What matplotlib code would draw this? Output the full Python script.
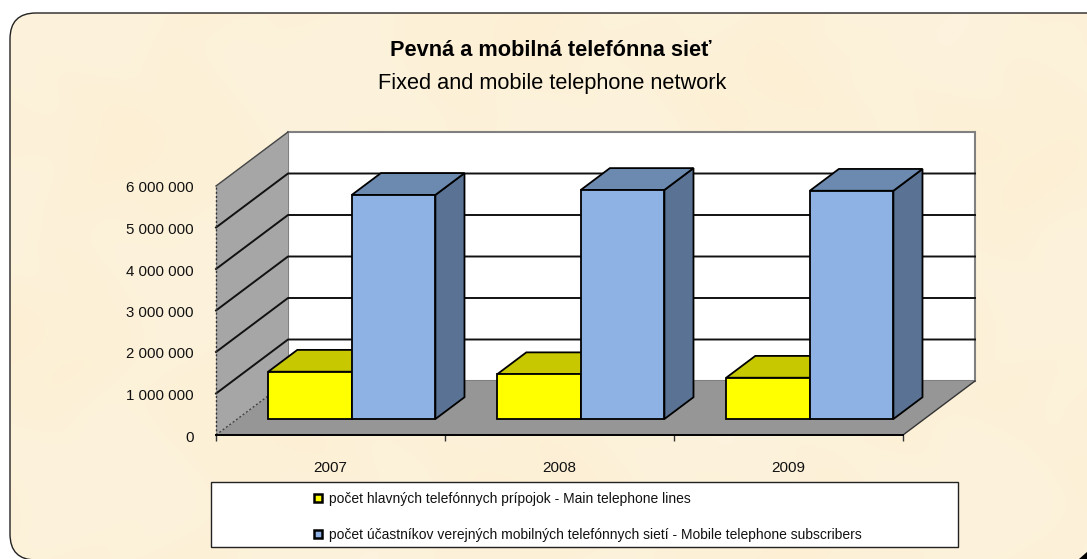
import numpy as np
import matplotlib
matplotlib.use("Agg")
import matplotlib.pyplot as plt
from matplotlib.lines import Line2D
from matplotlib.patches import FancyBboxPatch, Polygon, Rectangle
from matplotlib.ticker import FuncFormatter
from matplotlib.transforms import ScaledTranslation

plt.rcParams['font.family'] = ['Liberation Sans', 'DejaVu Sans']

# === Donnees ===
annees = ["2007", "2008", "2009"]
lignes_fixes = [1140000, 1080000, 995000]
abonnes_mobiles = [5400000, 5520000, 5500000]
graduations = [0, 1000000, 2000000, 3000000, 4000000, 5000000, 6000000]
titre_sk = "Pevná a mobilná telefónna sieť"
titre_en = "Fixed and mobile telephone network"
legende = ["počet hlavných telefónnych prípojok - Main telephone lines",
           "počet účastníkov verejných mobilných telefónnych sietí - Mobile telephone subscribers"]

W, H = 1087, 559
fig = plt.figure(figsize=(W / 100, H / 100), dpi=100, facecolor="white")

# === Fond parchemin ===
bg = fig.add_axes([0, 0, 1, 1])
bg.set_xlim(0, W)
bg.set_ylim(H, 0)
bg.axis("off")
xx, yy = np.meshgrid(np.arange(W), np.arange(H))
tache = (np.sin(xx / 47.0 + yy / 83.0) + np.sin(xx / 131.0 - yy / 37.0 + 1.3)
         + np.sin(xx / 19.0 + np.sin(yy / 29.0) * 2) * 0.5) / 2.5
texture = np.dstack([0.992 + 0 * tache, 0.945 + 0.006 * tache, 0.85 + 0.018 * tache])
img = bg.imshow(np.clip(texture, 0, 1), extent=(0, W, H, 0), aspect="auto", zorder=0)
cadre = FancyBboxPatch((10, 13), 1120, 547, boxstyle="round,pad=0,rounding_size=26",
                       facecolor="none", edgecolor="#222222", lw=1.0, zorder=2)
bg.add_patch(cadre)
img.set_clip_path(cadre)
# coin noir en bas a droite
bg.add_patch(Polygon([(1079, 559), (1087, 552), (1087, 559)], facecolor="black", edgecolor="none", zorder=2))

# === Axes : plan avant du graphique 3D ===
ax = fig.add_axes([216 / W, (H - 435) / H, 687 / W, 249 / H])
ax.patch.set_visible(False)
ax.set_xlim(0, 3)
ax.set_ylim(0, 6000000)

# decalage de profondeur (en unites de donnees)
prof_x = 72 / 229
prof_y = 54 / 41.5 * 1000000


def proj(x, v, d):
    return (x + d * prof_x, v + d * prof_y)


def face(coins, couleur, ec="black", lw=1.3, z=1):
    pts = [proj(*c) for c in coins]
    ax.fill([p[0] for p in pts], [p[1] for p in pts], facecolor=couleur, edgecolor=ec,
            lw=lw, zorder=z, clip_on=False, joinstyle="miter")


vmax = graduations[-1]
# parois et sol
face([(0, 0, 1), (3, 0, 1), (3, vmax, 1), (0, vmax, 1)], "white", ec="#808080", lw=1.5)
face([(0, 0, 0), (0, 0, 1), (0, vmax, 1), (0, vmax, 0)], "#A6A6A6", ec="none")
face([(0, 0, 0), (3, 0, 0), (3, 0, 1), (0, 0, 1)], "#969696", ec="none")

# lignes de grille
for v in graduations[1:-1]:
    xs, ys = zip(proj(0, v, 0), proj(0, v, 1), proj(3, v, 1))
    ax.plot(xs, ys, color="#111111", lw=1.4, zorder=2, clip_on=False)
xs, ys = zip(proj(0, vmax, 0), proj(0, vmax, 1))
ax.plot(xs, ys, color="#444444", lw=1, zorder=2, clip_on=False)
xs, ys = zip(proj(0, 0, 0), proj(0, vmax, 0))
ax.plot(xs, ys, color="#333333", lw=1, ls=(0, (1.5, 1.5)), zorder=2, clip_on=False)
xs, ys = zip(proj(0, 0, 0), proj(0, 0, 1))
ax.plot(xs, ys, color="#444444", lw=1, ls=(0, (1.5, 1.5)), zorder=2, clip_on=False)
xs, ys = zip(proj(3, 0, 1), proj(3, 0, 0))
ax.plot(xs, ys, color="#333333", lw=1, zorder=2, clip_on=False)

# === Barres 3D ===
d0, d1 = 0.296, 0.70
marge = 0.135
larg = 0.365


def barre(x0, v, coul, coul_haut, coul_cote, z):
    x1 = x0 + larg
    face([(x1, 0, d0), (x1, 0, d1), (x1, v, d1), (x1, v, d0)], coul_cote, z=z)
    face([(x0, v, d0), (x1, v, d0), (x1, v, d1), (x0, v, d1)], coul_haut, z=z)
    face([(x0, 0, d0), (x1, 0, d0), (x1, v, d0), (x0, v, d0)], coul, z=z)


for i in range(len(annees)):
    barre(i + marge, lignes_fixes[i], "#FFFF00", "#C8C800", "#A0A000", 3 + 2 * i)
    barre(i + marge + larg, abonnes_mobiles[i], "#8EB2E3", "#6C8AB0", "#5A7394", 4 + 2 * i)

# === Axes et etiquettes ===
for cote in ["top", "left", "right"]:
    ax.spines[cote].set_visible(False)
ax.spines["bottom"].set_linewidth(1.4)
ax.spines["bottom"].set_zorder(20)
ax.set_yticks(graduations)
ax.yaxis.set_major_formatter(FuncFormatter(lambda v, _: f"{int(v):,}".replace(",", " ")))
ax.tick_params(axis="y", length=0, pad=16, labelsize=10.8, colors="#111111")
decalage = ScaledTranslation(0, -1 / 100, fig.dpi_scale_trans)
for t in ax.get_yticklabels():
    t.set_transform(t.get_transform() + decalage)
ax.set_xticks(range(4))
ax.set_xticklabels([])
ax.set_xticks([i + 0.5 for i in range(3)], minor=True)
ax.set_xticklabels(annees, minor=True)
ax.tick_params(axis="x", which="major", length=4, width=1, color="#333333")
ax.tick_params(axis="x", which="minor", length=0, pad=19, labelsize=11, labelcolor="#111111")

# === Titre ===
fig.text(551 / W, 1 - 50 / H, titre_sk, ha="center", va="center", fontsize=15.7,
         fontweight="bold", color="black")
fig.text(552 / W, 1 - 83 / H, titre_en, ha="center", va="center", fontsize=15.63, color="black")

# === Legende ===
bg.add_patch(Rectangle((211, 482), 747, 65, facecolor="white", edgecolor="#222222", lw=1, zorder=3))
poignees = [Line2D([], [], ls="none", marker="s", ms=5.5, mfc=c, mec="black", mew=1.8)
            for c in ["#FFFF00", "#8EB2E3"]]
fig.legend(poignees, legende, loc="center", bbox_to_anchor=(587 / W, 1 - 517 / H), frameon=False,
           fontsize=9.97, labelspacing=1.55, handlelength=0.7, handletextpad=0.45,
           borderpad=0, borderaxespad=0, labelcolor="#111111")

fig.savefig("out.png", dpi=100)
